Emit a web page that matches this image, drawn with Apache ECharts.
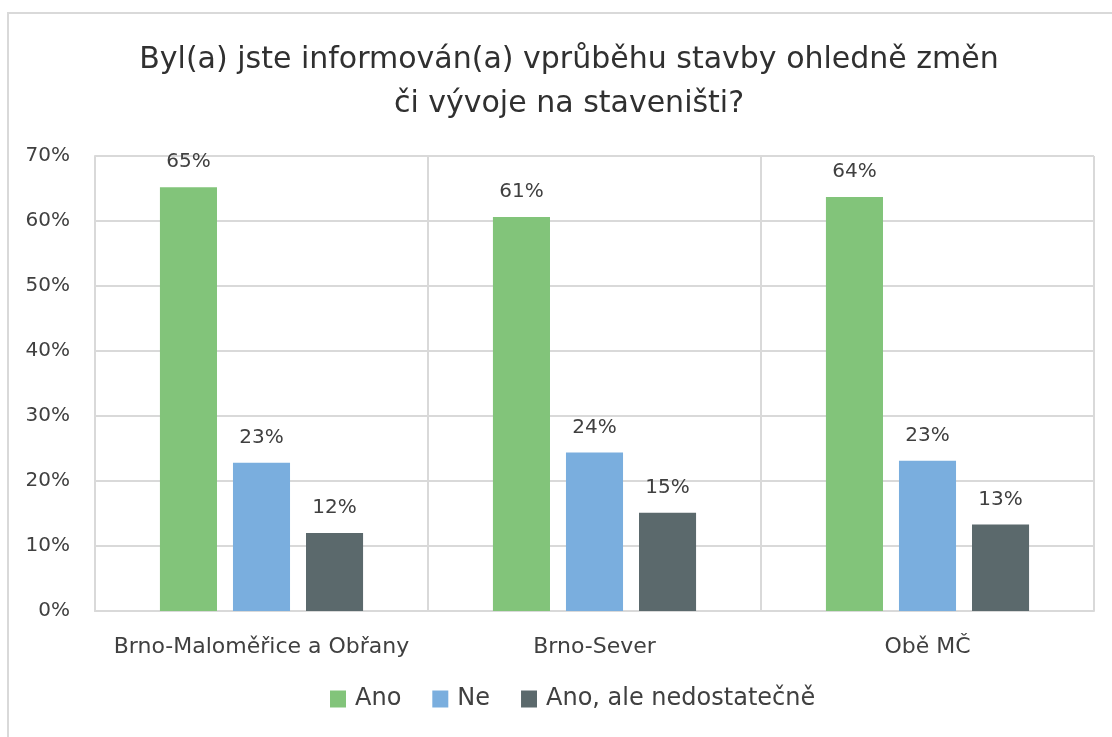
<!DOCTYPE html>
<html><head><meta charset="utf-8">
<script src="https://cdn.jsdelivr.net/npm/echarts@6/dist/echarts.min.js"></script>
<style>html,body{margin:0;padding:0;background:#fff}#c{width:1112px;height:737px}</style>
</head><body><div id="c"></div>
<script>
const categories = ["Brno-Maloměřice a Obřany", "Brno-Sever", "Obě MČ"];
const seriesNames = ["Ano", "Ne", "Ano, ale nedostatečně"];
const ano = [65.2, 60.6, 63.7];
const ne = [22.8, 24.4, 23.1];
const anoAle = [12.0, 15.1, 13.3];
const yTicks = [0, 10, 20, 30, 40, 50, 60, 70];
const colors = ["#82C47A", "#7AAEDE", "#5B696C"];
const titleText = "Byl(a) jste informován(a) vprůběhu stavby ohledně změn\nči vývoje na staveništi?";

const font = "DejaVu Sans";
const chart = echarts.init(document.getElementById('c'));
const values = [ano, ne, anoAle];
chart.setOption({
  animation: false,
  color: colors,
  textStyle: {fontFamily: font},
  title: {
    text: titleText, left: 564, textAlign: 'center', top: 33,
    textStyle: {fontFamily: font, fontSize: 30, fontWeight: 'normal', color: '#303030', lineHeight: 44}
  },
  graphic: [{type: 'rect', shape: {x: 8, y: 13, width: 1120, height: 740}, style: {fill: 'none', stroke: '#d9d9d9', lineWidth: 2}, silent: true}],
  legend: {
    bottom: 21, left: 325, itemWidth: 16, itemHeight: 17, itemGap: 31,
    icon: 'rect',
    textStyle: {fontFamily: font, fontSize: 24, color: '#404040', padding: [0, 0, 0, 4]},
    data: seriesNames
  },
  grid: {left: 95, right: 18, top: 156, bottom: 126},
  xAxis: {
    type: 'category', data: categories,
    axisLine: {show: true, lineStyle: {color: '#d9d9d9', width: 2}},
    axisTick: {show: false},
    splitLine: {show: true, interval: 0, lineStyle: {color: '#d9d9d9', width: 2}},
    axisLabel: {interval: 0, fontFamily: font, fontSize: 22, color: '#404040', margin: 25}
  },
  yAxis: {
    type: 'value', min: 0, max: 70, interval: 10,
    axisLine: {show: true, lineStyle: {color: '#d9d9d9', width: 2}},
    axisTick: {show: false},
    splitLine: {show: true, lineStyle: {color: '#d9d9d9', width: 2}},
    axisLabel: {fontFamily: font, fontSize: 20, color: '#404040', margin: 25,
      formatter: v => yTicks.includes(v) ? v + '%' : ''}
  },
  series: values.map((vals, i) => ({
    name: seriesNames[i], type: 'bar', data: vals,
    barGap: '28%', barCategoryGap: '39%',
    label: {show: true, position: 'top', distance: 15, fontFamily: font, fontSize: 20, color: '#404040',
      formatter: p => Math.round(p.value) + '%'}
  }))
});
</script></body></html>
